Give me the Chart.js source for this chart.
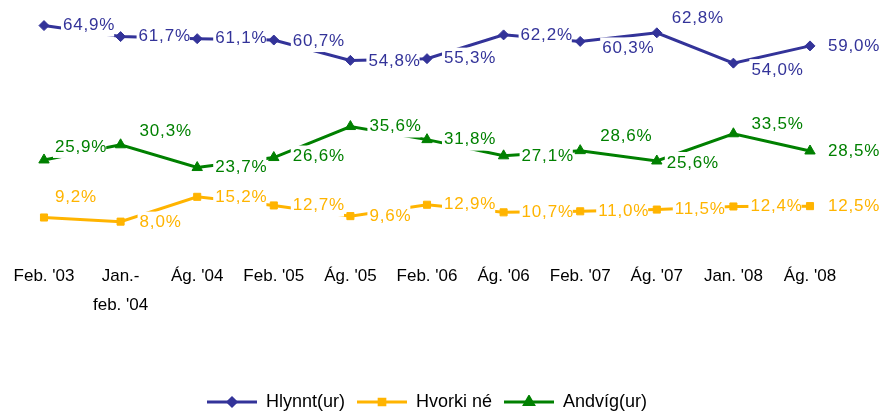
<!DOCTYPE html>
<html>
<head>
<meta charset="utf-8">
<script src="https://cdn.jsdelivr.net/npm/chart.js@4/dist/chart.umd.min.js"></script>
<style>
html,body{margin:0;padding:0;background:#fff;}
#wrap{width:884px;height:414px;}
</style>
</head>
<body>
<div id="wrap"><canvas id="c" width="884" height="414"></canvas></div>
<script>
const categories = ["Feb. '03", ["Jan.-", "feb. '04"], "Ág. '04", "Feb. '05", "Ág. '05", "Feb. '06", "Ág. '06", "Feb. '07", "Ág. '07", "Jan. '08", "Ág. '08"];
const hlynnt = [64.9, 61.7, 61.1, 60.7, 54.8, 55.3, 62.2, 60.3, 62.8, 54.0, 59.0];
const hvorki = [9.2, 8.0, 15.2, 12.7, 9.6, 12.9, 10.7, 11.0, 11.5, 12.4, 12.5];
const andvig = [25.9, 30.3, 23.7, 26.6, 35.6, 31.8, 27.1, 28.6, 25.6, 33.5, 28.5];
const seriesNames = ["Hlynnt(ur)", "Hvorki né", "Andvíg(ur)"];

// label placement offsets (dx to label's left edge, dy to its middle), relative to each point
const labelOffsets = [
  [[19,0],[18,0],[18,0],[19,1],[18,1],[17,0],[17,0],[22,7],[15,-14],[18,7],[18,0]],
  [[11,-20],[19,1],[18,0],[19,0],[19,0],[17,0],[18,0],[18,0],[18,0],[17,0],[18,0]],
  [[11,-13],[19,-13],[18,0],[19,-1],[19,0],[17,0],[18,0],[20,-14],[10,2],[18,-9],[18,0]]
];

const BLUE = '#333399', GOLD = '#FFB400', GREEN = '#008000';
const FONT = "'Liberation Sans', Arial, sans-serif";

function legendIcon(color, style, r) {
  const c = document.createElement('canvas');
  c.width = 50; c.height = 14;
  const g = c.getContext('2d');
  g.strokeStyle = color; g.fillStyle = color; g.lineWidth = 3;
  g.beginPath(); g.moveTo(0, 7); g.lineTo(50, 7); g.stroke();
  Chart.helpers.drawPoint(g, {pointStyle: style, radius: r, rotation: 0, borderWidth: 1}, 25, 7);
  return c;
}

const dataLabelPlugin = {
  id: 'dataLabels',
  afterDatasetsDraw(chart) {
    const ctx = chart.ctx;
    ctx.save();
    ctx.font = "17px " + FONT;
    if ('letterSpacing' in ctx) ctx.letterSpacing = '0.8px';
    ctx.textAlign = 'left';
    ctx.textBaseline = 'middle';
    chart.data.datasets.forEach((ds, i) => {
      const meta = chart.getDatasetMeta(i);
      meta.data.forEach((pt, j) => {
        const off = labelOffsets[i][j];
        const txt = ds.data[j].toFixed(1).replace('.', ',') + '%';
        const x = pt.x + off[0], y = pt.y + off[1];
        const w = ctx.measureText(txt).width;
        ctx.fillStyle = '#fff';
        ctx.fillRect(x - 2, y - 11, w + 1, 22);
        ctx.fillStyle = ds.borderColor;
        ctx.fillText(txt, x, y);
      });
    });
    ctx.restore();
  }
};

new Chart(document.getElementById('c'), {
  type: 'line',
  data: {
    labels: categories,
    datasets: [
      {label: seriesNames[0], data: hlynnt, borderColor: BLUE, backgroundColor: BLUE, pointStyle: 'rectRot', pointRadius: 5, borderWidth: 3, pointBorderWidth: 1, tension: 0},
      {label: seriesNames[1], data: hvorki, borderColor: GOLD, backgroundColor: GOLD, pointStyle: 'rect', pointRadius: 5, borderWidth: 3, pointBorderWidth: 1, tension: 0},
      {label: seriesNames[2], data: andvig, borderColor: GREEN, backgroundColor: GREEN, pointStyle: 'triangle', pointRadius: 6, borderWidth: 3, pointBorderWidth: 1, tension: 0}
    ]
  },
  options: {
    responsive: false,
    animation: false,
    layout: {padding: {left: 44, right: 74, top: 8, bottom: -7}},
    scales: {
      x: {
        offset: false,
        grid: {display: false, drawTicks: false},
        border: {display: false},
        ticks: {color: '#000', font: {family: FONT, size: 17, lineHeight: 1.7}, padding: 13, maxRotation: 0, autoSkip: false},
        afterFit(s) { s.paddingLeft = 0; s.paddingRight = 0; s.height += 48; }
      },
      y: {
        display: false,
        min: 0, max: 70
      }
    },
    plugins: {
      tooltip: {enabled: false},
      legend: {
        position: 'bottom',
        labels: {
          usePointStyle: true,
          pointStyleWidth: 50,
          boxHeight: 14,
          padding: 12,
          color: '#000',
          font: {family: FONT, size: 18},
          generateLabels(chart) {
            const styles = [['rectRot', 4], ['rect', 4], ['triangle', 5]];
            return chart.data.datasets.map((ds, i) => ({
              text: ds.label,
              fillStyle: ds.borderColor,
              strokeStyle: ds.borderColor,
              fontColor: '#000',
              pointStyle: legendIcon(ds.borderColor, styles[i][0], styles[i][1]),
              datasetIndex: i,
              hidden: false,
              lineWidth: 0
            }));
          }
        }
      }
    }
  },
  plugins: [dataLabelPlugin]
});
</script>
</body>
</html>
